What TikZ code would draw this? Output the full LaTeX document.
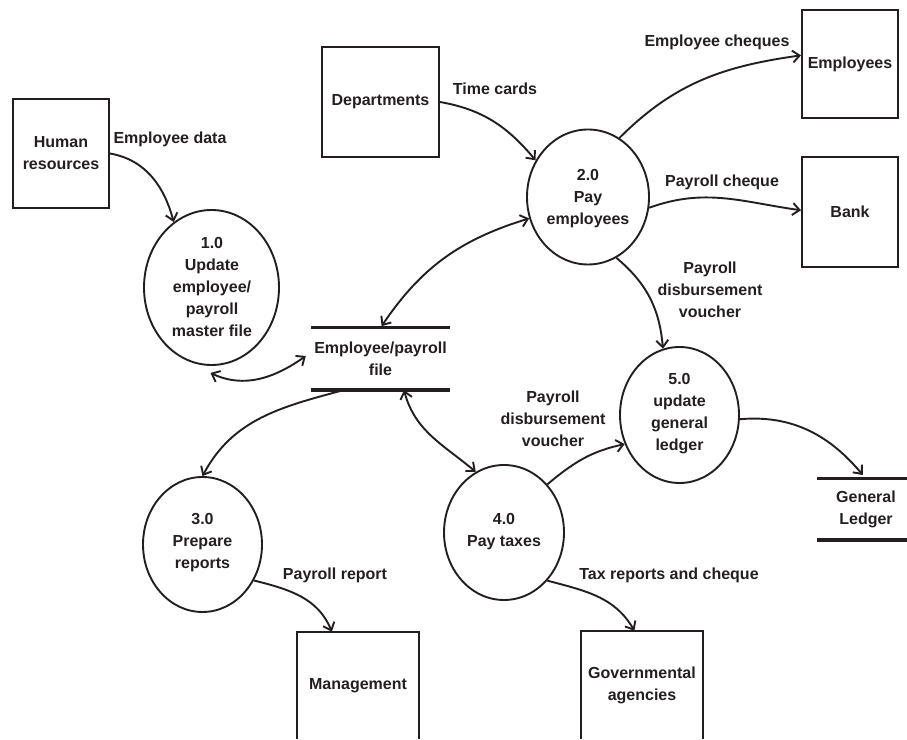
\documentclass[tikz,border=0pt]{standalone}
\usepackage{fontspec}
\setmainfont{Liberation Sans}
\usetikzlibrary{arrows.meta,shapes.geometric,calc}

\definecolor{ink}{HTML}{231F20}

\tikzset{
  every node/.style={font=\fontsize{16}{22}\selectfont\bfseries, align=center, inner sep=0pt, text=ink},
  entity/.style={draw=ink, rectangle, line width=2pt},
  boxline/.style={draw=ink, line width=2pt},
  proc/.style={draw=ink, ellipse, line width=1.9pt, inner sep=0pt},
  storeline/.style={draw=ink, line width=3.4pt},
  tip/.tip={Straight Barb[length=7pt,width=12pt]},
  flow/.style={draw=ink, line width=1.9pt, -tip},
  both/.style={draw=ink, line width=1.9pt, tip-tip}
}

\begin{document}
\begin{tikzpicture}[x=1pt,y=1pt]
\useasboundingbox (0,0) rectangle (907,739);

% external entities
\node[entity, minimum width=96pt, minimum height=109pt] (hr) at (61,585.5) {Human\\resources};
\node[entity, minimum width=117pt, minimum height=110pt] (dept) at (380.5,637) {Departments};
\node[entity, minimum width=96pt, minimum height=108pt] (emps) at (850,675) {Employees};
\node[entity, minimum width=96pt, minimum height=110pt] (bank) at (850,527) {Bank};
\node[minimum width=122pt, minimum height=107pt] (mgmt) at (358,53.5) {Management};
\node[minimum width=122pt, minimum height=108pt] (gov) at (642,54) {Governmental\\agencies};
\draw[boxline] (mgmt.south west) -- (mgmt.north west) -- (mgmt.north east) -- (mgmt.south east);
\draw[boxline] (gov.south west) -- (gov.north west) -- (gov.north east) -- (gov.south east);

% processes
\node[proc, minimum width=135pt, minimum height=155pt] (p1) at (211.5,451.5) {};
\node (p1t) at (212,452.5) {1.0\\Update\\employee/\\payroll\\master file};
\node[proc, minimum width=122pt, minimum height=135pt] (p2) at (588,542) {};
\node (p2t) at (588,540) {2.0\\Pay\\employees};
\node[proc, minimum width=119pt, minimum height=135pt] (p3) at (202.5,194.5) {};
\node (p3t) at (202.5,196.5) {3.0\\Prepare\\reports};
\node[proc, minimum width=120pt, minimum height=135pt] (p4) at (504,206.5) {};
\node (p4t) at (504,207.5) {4.0\\Pay taxes};
\node[proc, minimum width=119pt, minimum height=136pt] (p5) at (679.5,324) {};
\node (p5t) at (679.5,325) {5.0\\update\\general\\ledger};

% data stores
\node[minimum width=139pt, minimum height=62pt] (efile) at (380.5,380) {Employee/payroll\\file};
\draw[storeline] (efile.north west) -- (efile.north east);
\draw[storeline] (efile.south west) -- (efile.south east);
\node[minimum width=98pt, minimum height=61pt] (gl) at (866,229.5) {General\\Ledger};
\draw[storeline] (gl.north west) -- (gl.north east);
\draw[storeline] (gl.south west) -- (gl.south east);

% flow labels
\node (l1) at (170,600) {Employee data};
\node (l2) at (495,650) {Time cards};
\node (l3) at (717,697) {Employee cheques};
\node (l4) at (722,557) {Payroll cheque};
\node (l5) at (710,449) {Payroll\\disbursement\\voucher};
\node (l6) at (553,320) {Payroll\\disbursement\\voucher};
\node (l7) at (335,164) {Payroll report};
\node (l8) at (669,164) {Tax reports and cheque};

% data flows
\draw[flow] (hr.east) to[out=-10,in=105] (p1.120);
\draw[flow] (dept.east) to[out=-10,in=130] (p2.145);
\draw[flow] (p2.62) to[out=45,in=188] (emps.170);
\draw[flow] (p2.-10) to[out=20,in=172] (bank.178);
\draw[flow] (p2.-65) to[out=-40,in=95] (p5.104);
\draw[both, shorten <=2pt] (efile.north) to[out=56,in=197] (p2.200);
\draw[both] ($(p1.south)+(-1,-7)$) to[out=-25,in=215] ($(efile.west)+(-5,3)$);
\draw[flow] (efile.-140) to[out=195,in=62] (p3.north);
\draw[both] (efile.-53) to[out=-75,in=140] (p4.115);
\draw[flow] (p4.48) to[out=40,in=192] (p5.208);
\draw[flow, shorten >=5pt] (p5.-4) to[out=5,in=130] (gl.north);
\draw[flow] (p3.-35) to[out=-14,in=112] (mgmt.116);
\draw[flow] (p4.-48) to[out=-15,in=120] (gov.98);
\end{tikzpicture}
\end{document}
